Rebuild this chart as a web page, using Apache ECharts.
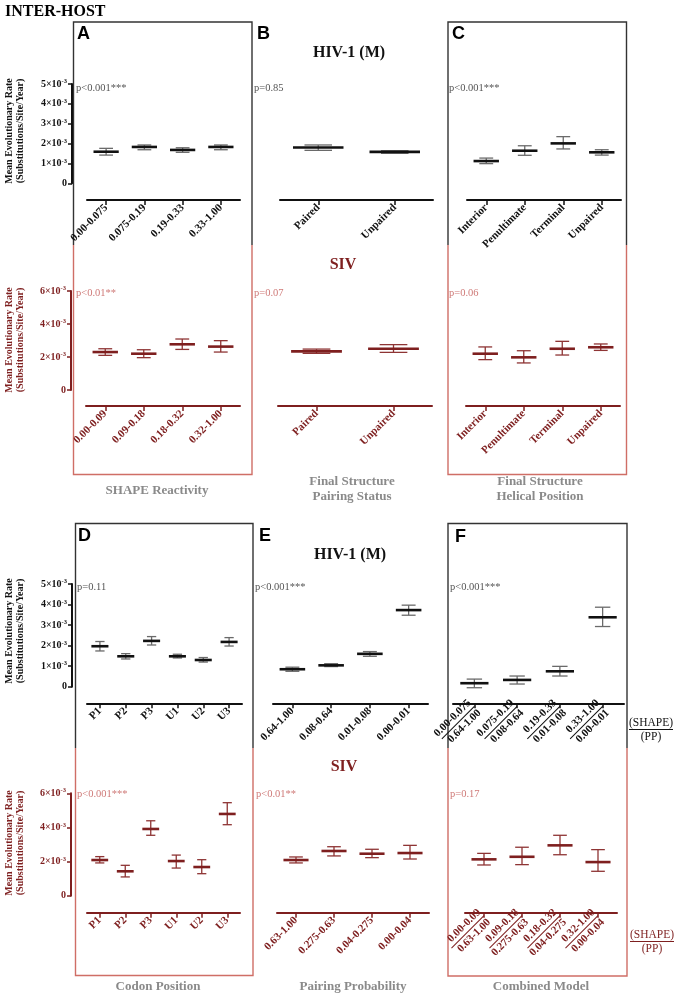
<!DOCTYPE html>
<html><head><meta charset="utf-8">
<script src="https://cdn.jsdelivr.net/npm/echarts/dist/echarts.min.js"></script>
<style>html,body{margin:0;padding:0;background:#fff}#c{width:679px;height:997px}</style>
</head><body><div id="c"></div>
<script>
// ---- DATA (mean evolutionary rate, units of 10^-3 substitutions/site/year) ----
const catsA_HIV = ['0.00-0.075','0.075-0.19','0.19-0.33','0.33-1.00'];
const meanA_HIV = [1.59,1.83,1.68,1.83];
const loA_HIV   = [1.42,1.69,1.56,1.69];
const hiA_HIV   = [1.76,1.93,1.79,1.93];
const catsA_SIV = ['0.00-0.09','0.09-0.18','0.18-0.32','0.32-1.00'];
const meanA_SIV = [2.30,2.20,2.77,2.63];
const loA_SIV   = [2.10,1.96,2.46,2.30];
const hiA_SIV   = [2.50,2.44,3.09,2.99];

const catsB = ['Paired','Unpaired'];
const meanB_HIV = [1.80,1.58];
const loB_HIV   = [1.66,1.51];
const hiB_HIV   = [1.93,1.64];
const meanB_SIV = [2.34,2.50];
const loB_SIV   = [2.22,2.28];
const hiB_SIV   = [2.48,2.75];

const catsC = ['Interior','Penultimate','Terminal','Unpaired'];
const meanC_HIV = [1.12,1.64,2.01,1.56];
const loC_HIV   = [0.99,1.41,1.73,1.42];
const hiC_HIV   = [1.27,1.89,2.35,1.69];
const meanC_SIV = [2.20,1.98,2.50,2.59];
const loC_SIV   = [1.84,1.64,2.12,2.40];
const hiC_SIV   = [2.61,2.38,2.95,2.79];

const catsD = ['P1','P2','P3','U1','U2','U3'];
const meanD_HIV = [1.97,1.48,2.23,1.48,1.30,2.18];
const loD_HIV   = [1.74,1.35,2.03,1.40,1.20,1.98];
const hiD_HIV   = [2.20,1.61,2.44,1.58,1.42,2.39];
const meanD_SIV = [2.09,1.43,3.91,2.03,1.68,4.79];
const loD_SIV   = [1.92,1.10,3.54,1.62,1.29,4.16];
const hiD_SIV   = [2.29,1.78,4.39,2.38,2.11,5.45];

const catsE_HIV = ['0.64-1.00','0.08-0.64','0.01-0.08','0.00-0.01'];
const meanE_HIV = [0.85,1.04,1.60,3.73];
const loE_HIV   = [0.75,0.98,1.48,3.48];
const hiE_HIV   = [0.95,1.12,1.71,3.97];
const catsE_SIV = ['0.63-1.00','0.275-0.63','0.04-0.275','0.00-0.04'];
const meanE_SIV = [2.09,2.62,2.46,2.50];
const loE_SIV   = [1.92,2.33,2.23,2.15];
const hiE_SIV   = [2.27,2.87,2.72,2.95];

const shapeF_HIV = ['0.00-0.075','0.075-0.19','0.19-0.33','0.33-1.00'];
const ppF_HIV    = ['0.64-1.00','0.08-0.64','0.01-0.08','0.00-0.01'];
const meanF_HIV = [0.17,0.33,0.75,3.38];
const loF_HIV   = [-0.05,0.13,0.52,2.93];
const hiF_HIV   = [0.37,0.52,0.99,3.87];
const shapeF_SIV = ['0.00-0.09','0.09-0.18','0.18-0.32','0.32-1.00'];
const ppF_SIV    = ['0.63-1.00','0.275-0.63','0.04-0.275','0.00-0.04'];
const meanF_SIV = [2.13,2.28,2.95,1.97];
const loF_SIV   = [1.80,1.82,2.40,1.43];
const hiF_SIV   = [2.48,2.84,3.54,2.70];

const yTicksHIV = [0,1,2,3,4,5];
const yTicksSIV = [0,2,4,6];

// ---- STYLE ----
const SERIF = '"Liberation Serif","Times New Roman",serif';
const SANS = '"Liberation Sans",Arial,sans-serif';
const BLACK = '#111';
const HIV_WHISK = '#6a6a6a';
const SIV_DARK = '#7e1f1f';
const SIV_WHISK = '#8e3434';
const SIV_P = '#cf7a78';
const BOX_RED = '#cf6e66';
const GRAY_T = '#8a8a8a';

const rowHIV1 = {top:84, height:99.3, xOff:16.7};
const rowSIV1 = {top:291, height:99, xOff:16};
const rowHIV2 = {top:584, height:102.7, xOff:16.6};
const rowSIV2 = {top:793.3, height:102.4, xOff:17};

function P(cats, mean, lo, hi, org, row, left, width, showY, yOff, fLabels){
  return {cats, mean, lo, hi, org, row, left, width, showY, yOff, fLabels};
}
const panels = [
  P(catsA_HIV, meanA_HIV, loA_HIV, hiA_HIV, 'HIV', rowHIV1, 87, 153, true, 15),
  P(catsB, meanB_HIV, loB_HIV, hiB_HIV, 'HIV', rowHIV1, 280, 153, false, 0),
  P(catsC, meanC_HIV, loC_HIV, hiC_HIV, 'HIV', rowHIV1, 467, 154, false, 0),
  P(catsA_SIV, meanA_SIV, loA_SIV, hiA_SIV, 'SIV', rowSIV1, 86, 154, true, 15),
  P(catsB, meanB_SIV, loB_SIV, hiB_SIV, 'SIV', rowSIV1, 278, 154, false, 0),
  P(catsC, meanC_SIV, loC_SIV, hiC_SIV, 'SIV', rowSIV1, 466, 154, false, 0),
  P(catsD, meanD_HIV, loD_HIV, hiD_HIV, 'HIV', rowHIV2, 87, 155, true, 15),
  P(catsE_HIV, meanE_HIV, loE_HIV, hiE_HIV, 'HIV', rowHIV2, 273, 155, false, 0),
  P(shapeF_HIV, meanF_HIV, loF_HIV, hiF_HIV, 'HIV', rowHIV2, 453, 171, false, 0, ppF_HIV),
  P(catsD, meanD_SIV, loD_SIV, hiD_SIV, 'SIV', rowSIV2, 87, 153, true, 16),
  P(catsE_SIV, meanE_SIV, loE_SIV, hiE_SIV, 'SIV', rowSIV2, 277, 152, false, 0),
  P(shapeF_SIV, meanF_SIV, loF_SIV, hiF_SIV, 'SIV', rowSIV2, 465, 152, false, 0, ppF_SIV)
];

function renderItem(params, api){
  const org = panels[params.seriesIndex].org;
  const x = api.value(0);
  const pm = api.coord([x, api.value(1)]);
  const pl = api.coord([x, api.value(2)]);
  const ph = api.coord([x, api.value(3)]);
  const bw = api.size([1,0])[0];
  const mw = bw*0.66/2, cw = bw*0.36/2;
  const wc = org==='HIV' ? HIV_WHISK : SIV_WHISK;
  const mc = org==='HIV' ? BLACK : SIV_DARK;
  const cx = pm[0];
  return {type:'group', children:[
    {type:'line', shape:{x1:cx,y1:pl[1],x2:cx,y2:ph[1]}, style:{stroke:wc, lineWidth:1.3}},
    {type:'line', shape:{x1:cx-cw,y1:pl[1],x2:cx+cw,y2:pl[1]}, style:{stroke:wc, lineWidth:1.3}},
    {type:'line', shape:{x1:cx-cw,y1:ph[1],x2:cx+cw,y2:ph[1]}, style:{stroke:wc, lineWidth:1.3}},
    {type:'line', shape:{x1:cx-mw,y1:pm[1],x2:cx+mw,y2:pm[1]}, style:{stroke:mc, lineWidth:2.6}}
  ]};
}

const grids=[], xAxes=[], yAxes=[], series=[];
panels.forEach((p,i)=>{
  const col = p.org==='HIV' ? BLACK : SIV_DARK;
  const ticks = p.org==='HIV' ? yTicksHIV : yTicksSIV;
  grids.push({left:p.left, top:p.row.top, width:p.width, height:p.row.height, containLabel:false});
  const xa = {
    type:'category', gridIndex:i, data:p.cats, position:'bottom', offset:p.row.xOff,
    boundaryGap:true,
    axisLine:{show:true, onZero:false, lineStyle:{color:col, width:2}},
    axisTick:{show:true, alignWithLabel:true, length:5, lineStyle:{color:col, width:1.5}},
    axisLabel:{rotate:45, margin:6, interval:0, fontFamily:SERIF, fontWeight:'bold', fontSize:11, color:col},
    splitLine:{show:false}
  };
  if (p.fLabels){
    const pp = p.fLabels;
    xa.axisLabel.formatter = (v, idx) => '{a|' + v + '}\n{u| }\n{b|' + pp[idx] + '}';
    xa.axisLabel.rich = {
      a:{fontFamily:SERIF, fontWeight:'bold', fontSize:11, color:col, lineHeight:12},
      b:{fontFamily:SERIF, fontWeight:'bold', fontSize:11, color:col, lineHeight:12},
      u:{width:46, height:1, lineHeight:2, fontSize:1, backgroundColor:col}
    };
    xa.axisLabel.margin = 3;
  }
  xAxes.push(xa);
  yAxes.push({
    type:'value', gridIndex:i, min:ticks[0], max:ticks[ticks.length-1], interval:ticks[1]-ticks[0],
    show:p.showY, position:'left', offset:p.yOff,
    axisLine:{show:true, lineStyle:{color:col, width:2}},
    axisTick:{show:true, length:4, lineStyle:{color:col, width:1.5}},
    axisLabel:{margin:5, color:col,
      formatter: v => v===0 ? '{m|0}' : '{m|' + v + '×10}{s|-3}',
      rich:{m:{fontFamily:SERIF, fontWeight:'bold', fontSize:10, color:col, lineHeight:12},
            s:{fontFamily:SERIF, fontWeight:'bold', fontSize:6.5, color:col, verticalAlign:'top', lineHeight:12}}},
    splitLine:{show:false}
  });
  series.push({
    type:'custom', xAxisIndex:i, yAxisIndex:i, renderItem, clip:false, silent:true,
    encode:{x:0, y:[1,2,3]},
    data:p.mean.map((m,k)=>[k, m, p.lo[k], p.hi[k]])
  });
});

// ---- graphic annotations ----
const G = [];
function txt(text, x, y, font, fill, align, valign, extra){
  G.push(Object.assign({type:'text', x, y, silent:true,
    style:{text, font, fill, textAlign:align||'left', textVerticalAlign:valign||'middle'}}, extra||{}));
}
function box(x1,y1,x2,y2,split){
  G.push({type:'polyline', silent:true, shape:{points:[[x1,split],[x1,y1],[x2,y1],[x2,split]]}, style:{stroke:'#333', lineWidth:1.4, fill:null}});
  G.push({type:'polyline', silent:true, shape:{points:[[x1,split],[x1,y2],[x2,y2],[x2,split]]}, style:{stroke:BOX_RED, lineWidth:1.4, fill:null}});
}
box(73.5,22,252,474.5,245);
box(448,22,626.5,474.5,245);
box(75.5,523.5,253,975.5,748);
box(448,523.5,627,976,748);

txt('INTER-HOST', 5, 12, 'bold 16px ' + SERIF, '#000');
const L = 'bold 18px ' + SANS;
txt('A', 77, 34, L, '#000'); txt('B', 257, 34, L, '#000'); txt('C', 452, 34, L, '#000');
txt('D', 78, 536, L, '#000'); txt('E', 259, 536, L, '#000'); txt('F', 455, 537, L, '#000');

const TF = 'bold 16px ' + SERIF;
txt('HIV-1 (M)', 349, 53, TF, '#111', 'center');
txt('SIV', 343, 265, TF, SIV_DARK, 'center');
txt('HIV-1 (M)', 350, 555, TF, '#111', 'center');
txt('SIV', 344, 767, TF, SIV_DARK, 'center');

const PF = '10.5px ' + SERIF;
txt('p<0.001***', 76, 88, PF, '#555'); txt('p=0.85', 254, 88, PF, '#555'); txt('p<0.001***', 449, 88, PF, '#555');
txt('p<0.01**', 76, 293, PF, SIV_P); txt('p=0.07', 254, 293, PF, SIV_P); txt('p=0.06', 449, 293, PF, SIV_P);
txt('p=0.11', 77, 587.5, PF, '#555'); txt('p<0.001***', 255, 587.5, PF, '#555'); txt('p<0.001***', 450, 587.5, PF, '#555');
txt('p<0.001***', 77, 794, PF, SIV_P); txt('p<0.01**', 256, 794, PF, SIV_P); txt('p=0.17', 450, 794, PF, SIV_P);

const BF = 'bold 13px ' + SERIF;
txt('SHAPE Reactivity', 157, 490.5, BF, GRAY_T, 'center');
txt('Final Structure', 352, 482, BF, GRAY_T, 'center');
txt('Pairing Status', 352, 497, BF, GRAY_T, 'center');
txt('Final Structure', 540, 482, BF, GRAY_T, 'center');
txt('Helical Position', 540, 497, BF, GRAY_T, 'center');
txt('Codon Position', 158, 986.5, BF, GRAY_T, 'center');
txt('Pairing Probability', 353, 986.5, BF, GRAY_T, 'center');
txt('Combined Model', 541, 986.5, BF, GRAY_T, 'center');

const YF = 'bold 10px ' + SERIF;
const yname = 'Mean Evolutionary Rate\n(Substitutions/Site/Year)';
[[131,'#111'],[340,SIV_DARK],[631,'#111'],[843,SIV_DARK]].forEach(([cy,c])=>{
  G.push({type:'text', x:15, y:cy, rotation:Math.PI/2, silent:true,
    style:{text:yname, font:YF, fill:c, textAlign:'center', textVerticalAlign:'middle', lineHeight:11}});
});

const SF = '11.5px ' + SERIF;
function shapePP(cx, y, c){
  txt('(SHAPE)', cx, y, SF, c, 'center');
  G.push({type:'line', silent:true, shape:{x1:cx-22, y1:y+6.5, x2:cx+22, y2:y+6.5}, style:{stroke:c, lineWidth:1}});
  txt('(PP)', cx, y+14, SF, c, 'center');
}
shapePP(651, 723, '#111');
shapePP(652, 935, SIV_DARK);

const chart = echarts.init(document.getElementById('c'), null, {renderer:'canvas'});
chart.setOption({
  animation:false, backgroundColor:'#fff',
  grid:grids, xAxis:xAxes, yAxis:yAxes, series, graphic:G
});
</script></body></html>
